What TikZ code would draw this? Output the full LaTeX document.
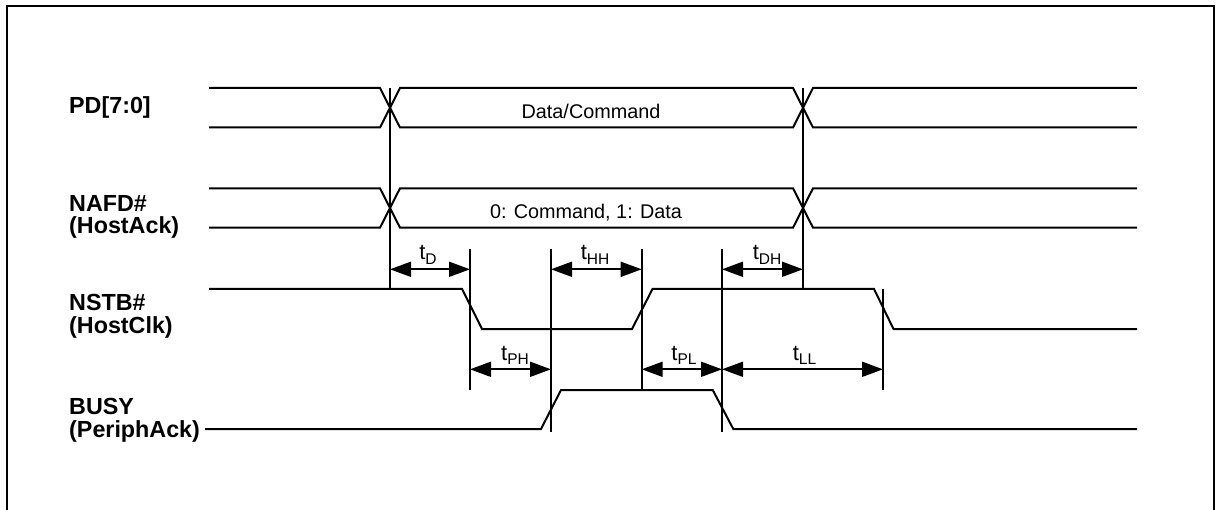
\documentclass[tikz,border=0pt]{standalone}
\usepackage{fontspec}
\setmainfont{Liberation Sans}
\usetikzlibrary{arrows.meta}

% timing label: t with a lowered subscript
\newcommand\tlab[1]{{\fontsize{22}{22}\selectfont t}\raisebox{-4.5pt}{\fontsize{15.5}{15.5}\selectfont #1}}

\begin{document}
\begin{tikzpicture}[x=1pt,y=-1pt,
  sig/.style={line width=2pt, line join=miter},
  guide/.style={line width=1.8pt},
  frameline/.style={line width=2.3pt},
  dimarrow/.style={line width=1.8pt,
    {Triangle[length=21pt,width=15pt]}-{Triangle[length=21pt,width=15pt]}},
  signame/.style={anchor=base west, inner sep=0pt,
    font=\bfseries\fontsize{23.3}{23.3}\selectfont},
  bustext/.style={anchor=center, inner sep=0pt, font=\fontsize{19.8}{19.8}\selectfont},
  tname/.style={anchor=base, inner sep=0pt}
]
\useasboundingbox (0,0) rectangle (1217,510);

% outer frame (open at the bottom edge)
\draw[frameline] (7,510) -- (7,6) -- (1214,6) -- (1214,510);

% signal names
\node[signame] (pd)    at (69,113.5) {PD[7:0]};
\node[signame] (nafd)  at (69,211.5) {NAFD\#};
\node[signame] (nafdb) at (69,234)   {(HostAck)};
\node[signame] (nstb)  at (69,311)   {NSTB\#};
\node[signame] (nstbb) at (69,333.5) {(HostClk)};
\node[signame] (busy)  at (69,414.5) {BUSY};
\node[signame] (busyb) at (69,437)   {(PeriphAck)};

% PD[7:0] bus
\draw[sig] (209,88) -- (380,88) -- (400,127.5) -- (793,127.5) -- (813,88) -- (1137,88);
\draw[sig] (209,127.5) -- (380,127.5) -- (400,88) -- (793,88) -- (813,127.5) -- (1137,127.5);
\node[bustext] (pdtxt) at (591,111.5) {Data/Command};

% NAFD# bus
\draw[sig] (209,188.3) -- (380,188.3) -- (400,227.7) -- (793,227.7) -- (813,188.3) -- (1137,188.3);
\draw[sig] (209,227.7) -- (380,227.7) -- (400,188.3) -- (793,188.3) -- (813,227.7) -- (1137,227.7);
\node[bustext] (nafdtxt) at (586,212.5) {0: Command, 1: Data};

% NSTB# strobe
\draw[sig] (209,289) -- (462,289) -- (482,329) -- (632,329) -- (652.5,289)
  -- (874,289) -- (893.5,329) -- (1137,329);

% BUSY
\draw[sig] (205,429) -- (541,429) -- (561,390) -- (712.7,390) -- (733.3,429) -- (1137,429);

% reference edges
\coordinate (e1t) at (390,88);    \coordinate (e1b) at (390,289);
\coordinate (e2t) at (803,88);    \coordinate (e2b) at (803,289);
\coordinate (f1t) at (470,249);   \coordinate (f1b) at (470,390);
\coordinate (f2t) at (551,249);   \coordinate (f2b) at (551,431.7);
\coordinate (f3t) at (641.7,249); \coordinate (f3b) at (641.7,390);
\coordinate (f4t) at (722,249);   \coordinate (f4b) at (722,431.7);
\coordinate (f5t) at (883,289);   \coordinate (f5b) at (883,390);

\foreach \e in {e1,e2,f1,f2,f3,f4,f5}
  \draw[guide] (\e t) -- (\e b);

% timing dimensions, upper row
\coordinate (d1a) at (390,269.3);   \coordinate (d1b) at (470,269.3);
\coordinate (d2a) at (551,269.3);   \coordinate (d2b) at (641.7,269.3);
\coordinate (d3a) at (722,269.3);   \coordinate (d3b) at (803,269.3);
% timing dimensions, lower row
\coordinate (d4a) at (470,369.3);   \coordinate (d4b) at (551,369.3);
\coordinate (d5a) at (641.7,369.3); \coordinate (d5b) at (722,369.3);
\coordinate (d6a) at (722,369.3);   \coordinate (d6b) at (883,369.3);

\foreach \d in {d1,d2,d3,d4,d5,d6}
  \draw[dimarrow] (\d a) -- (\d b);

\node[tname] (td)  at (428,260)   {\tlab{D}};
\node[tname] (thh) at (595,260)   {\tlab{HH}};
\node[tname] (tdh) at (767,260)   {\tlab{DH}};
\node[tname] (tph) at (515,360)   {\tlab{PH}};
\node[tname] (tpl) at (684,360)   {\tlab{PL}};
\node[tname] (tll) at (804.5,360) {\tlab{LL}};
\end{tikzpicture}
\end{document}
